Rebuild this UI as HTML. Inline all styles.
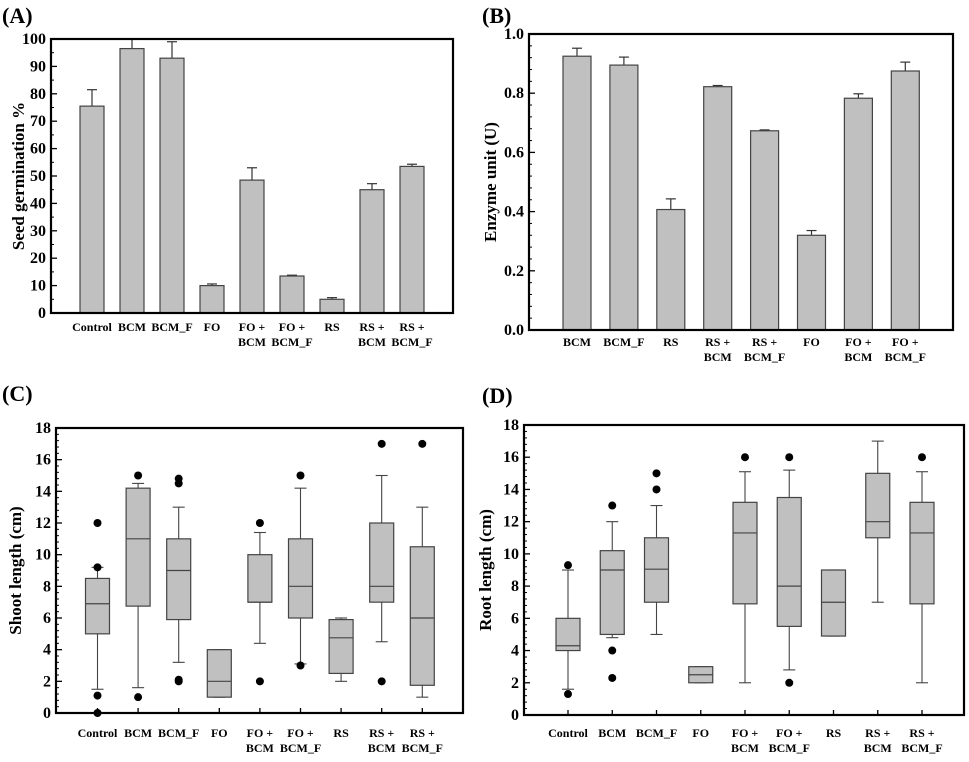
<!DOCTYPE html>
<html><head><meta charset="utf-8"><style>
html,body{margin:0;padding:0;background:#fff;}
svg, svg text{font-family:"Liberation Serif","Times New Roman","DejaVu Serif",serif;font-weight:bold;}
</style></head><body>
<svg id="fig" width="969" height="757" viewBox="0 0 969 757" xmlns="http://www.w3.org/2000/svg" font-family="Liberation Serif, serif" font-weight="bold">
<text x="2" y="23" font-size="22">(A)</text>
<text x="482" y="23" font-size="22">(B)</text>
<text x="2" y="401" font-size="22">(C)</text>
<text x="482" y="403" font-size="22">(D)</text>
</svg>
<script>
const catsA = ["Control","BCM","BCM_F","FO","FO +|BCM","FO +|BCM_F","RS","RS +|BCM","RS +|BCM_F"];
const valsA = [75.5,96.5,93,10,48.5,13.5,5,45,53.5];
const errA  = [6,5.5,6,0.6,4.5,0.3,0.6,2.2,0.8];
const ticksA = [0,10,20,30,40,50,60,70,80,90,100];

const catsB = ["BCM","BCM_F","RS","RS +|BCM","RS +|BCM_F","FO","FO +|BCM","FO +|BCM_F"];
const valsB = [0.925,0.895,0.407,0.822,0.673,0.32,0.783,0.875];
const errB  = [0.027,0.027,0.036,0.004,0.003,0.016,0.015,0.03];
const ticksB = [0,0.2,0.4,0.6,0.8,1.0];

const catsBox = ["Control","BCM","BCM_F","FO","FO +|BCM","FO +|BCM_F","RS","RS +|BCM","RS +|BCM_F"];
// [lowWhisker, q1, median, q3, highWhisker]
const boxC = [[1.5,5,6.9,8.5,9.2],[1.6,6.75,11,14.2,14.5],[3.2,5.9,9,11,13],[1,1,2,4,4],[4.4,7,7,10,11.4],[3.1,6,8,11,14.2],[2,2.5,4.75,5.9,6],[4.5,7,8,12,15],[1,1.75,6,10.5,13]];
const outC = [[12,9.2,1.1,0],[15,1],[14.8,14.5,2.1,2],[],[12,2],[15,3],[],[17,2],[17]];
const boxD = [[1.6,4,4.3,6,9],[4.8,5,9,10.2,12],[5,7,9.05,11,13],[2,2,2.5,3,3],[2,6.9,11.3,13.2,15.1],[2.8,5.5,8,13.5,15.2],[4.9,4.9,7,9,9],[7,11,12,15,17],[2,6.9,11.3,13.2,15.1]];
const outD = [[9.3,1.3],[13,4,2.3],[15,14],[],[16],[16,2],[],[],[16]];
const ticksBox = [0,2,4,6,8,10,12,14,16,18];

const NS = "http://www.w3.org/2000/svg";
const svg = document.getElementById("fig");
function mk(tag, attrs, parent){const e=document.createElementNS(NS,tag);for(const k in attrs)e.setAttribute(k,attrs[k]);(parent||svg).appendChild(e);return e;}

function frame(p, name){
  const g = mk("g",{});
  
  
  const y = v => p.y1 - (v - p.min)/(p.max - p.min)*(p.y1 - p.y0);
  const step = p.ticks[1]-p.ticks[0];
  for(let i=0;i<p.ticks.length-1;i++){
    for(let m=1;m<p.minor;m++){
      const yy=y(p.ticks[i]+step*m/p.minor);
      mk("line",{x1:p.x0,x2:p.x0+3,y1:yy,y2:yy,stroke:"#000","stroke-width":1},g);
    }
  }
  p.ticks.forEach(t=>{
    const yy=y(t);
    mk("line",{x1:p.x0,x2:p.x0+6,y1:yy,y2:yy,stroke:"#000","stroke-width":1.3},g);
    const tx=mk("text",{x:p.x0-5,y:yy+5,"font-size":16,"text-anchor":"end"},g);
    tx.textContent = p.fmt(t);
    
    
  });
  const t=mk("text",{x:0,y:0,"font-size":17,"text-anchor":"middle",transform:`translate(${p.tx},${(p.y0+p.y1)/2}) rotate(-90)`},g);
  t.textContent=p.title;
  
  
  return {g,y};
}
function xlabels(g, cats, cx, ly){
  cats.forEach((c,i)=>{
    const parts=c.split("|");
    parts.forEach((s,j)=>{
      const t=mk("text",{x:cx(i),y:ly+j*15,"font-size":12,"text-anchor":"middle"},g);
      t.textContent=s;
      
      
    });
  });
}
function border(g,p){
  const r=mk("rect",{x:p.x0,y:p.y0,width:p.x1-p.x0,height:p.y1-p.y0,fill:"none",stroke:"#000","stroke-width":2.2},g);
  
  
}
function barPanel(p, cats, vals, errs, name){
  const {g,y}=frame(p,name);
  const cx=i=>p.c0+i*p.dc;
  vals.forEach((v,i)=>{
    const top=Math.max(y(v+errs[i]),p.y0);
    const el=mk("line",{x1:cx(i),x2:cx(i),y1:y(v),y2:top,stroke:"#333","stroke-width":1.2},g);
    const cap=mk("line",{x1:cx(i)-5,x2:cx(i)+5,y1:top,y2:top,stroke:"#333","stroke-width":1.2},g);
    
    
    
    
    const b=mk("rect",{x:cx(i)-p.bw/2,y:y(v),width:p.bw,height:y(0)-y(v),fill:"#c0c0c0",stroke:"#444","stroke-width":1.2},g);
    
    
  });
  border(g,p);
  xlabels(g,cats,cx,p.ly);
}
function boxPanel(p, cats, boxes, outs, name){
  const {g,y}=frame(p,name);
  const cx=i=>p.c0+i*p.dc;
  boxes.forEach((b,i)=>{
    const x=cx(i), w=p.bw;
    mk("line",{x1:x,x2:x,y1:p.y1,y2:p.y1-5,stroke:"#000","stroke-width":1.3},g);
    const wl=mk("line",{x1:x,x2:x,y1:y(b[0]),y2:y(b[4]),stroke:"#444","stroke-width":1.1},g);
    
    
    [b[0],b[4]].forEach(v=>mk("line",{x1:x-6,x2:x+6,y1:y(v),y2:y(v),stroke:"#444","stroke-width":1.1},g));
    const r=mk("rect",{x:x-w/2,y:y(b[3]),width:w,height:y(b[1])-y(b[3]),fill:"#c0c0c0",stroke:"#444","stroke-width":1.2},g);
    
    
    const m=mk("line",{x1:x-w/2,x2:x+w/2,y1:y(b[2]),y2:y(b[2]),stroke:"#444","stroke-width":1.2},g);
    
    
    outs[i].forEach(v=>{
      const c=mk("circle",{cx:x,cy:y(v),r:4,fill:"#000"},g);
      
      
    });
  });
  border(g,p);
  xlabels(g,cats,cx,p.ly);
}
barPanel({x0:51,x1:453,y0:39,y1:313,min:0,max:100,ticks:ticksA,minor:2,fmt:t=>String(t),title:"Seed germination %",tx:24,c0:92,dc:40,bw:24,ly:331},catsA,valsA,errA,"panel-a-germination");
barPanel({x0:529,x1:953,y0:34,y1:330,min:0,max:1,ticks:ticksB,minor:5,fmt:t=>t.toFixed(1),title:"Enzyme unit (U)",tx:496,c0:577,dc:46.9,bw:28,ly:346},catsB,valsB,errB,"panel-b-enzyme");
boxPanel({x0:56,x1:463,y0:428,y1:713,min:0,max:18,ticks:ticksBox,minor:5,fmt:t=>String(t),title:"Shoot length (cm)",tx:21,c0:97.5,dc:40.6,bw:24,ly:737},catsBox,boxC,outC,"panel-c-shoot");
boxPanel({x0:524,x1:964,y0:425,y1:715,min:0,max:18,ticks:ticksBox,minor:5,fmt:t=>String(t),title:"Root length (cm)",tx:491,c0:568,dc:44.25,bw:24,ly:737},catsBox,boxD,outD,"panel-d-root");
</script>
</body></html>
